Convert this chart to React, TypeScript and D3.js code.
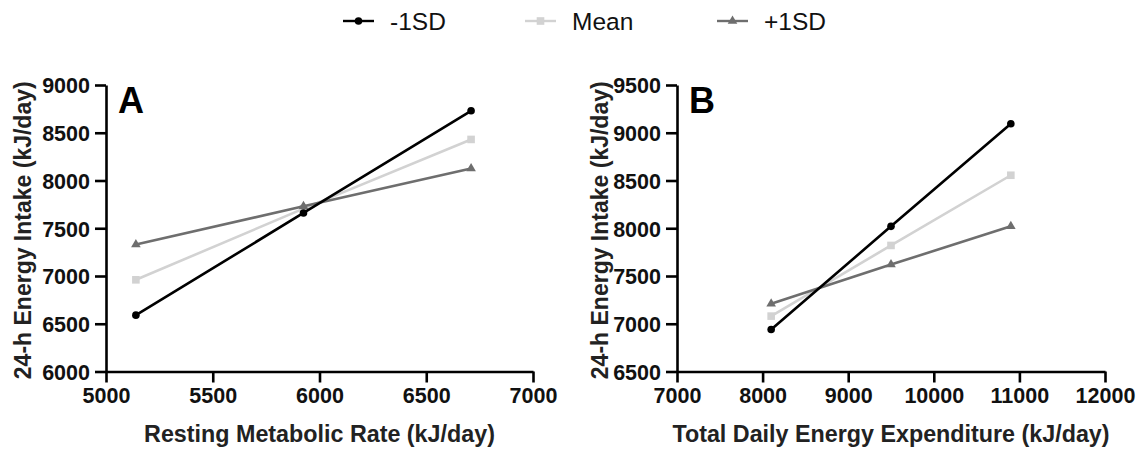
import React, { useEffect, useRef } from 'react';
import * as d3 from 'd3';

// values
const seriesNames = ['-1SD', 'Mean', '+1SD'];
const seriesColors = ['#000000', '#d2d2d2', '#6e6e6e'];
const seriesShapes = ['circle', 'square', 'triangle'];

const rmrX = [5140, 5925, 6710];
const rmrMinus = [6590, 7660, 8730];
const rmrMean = [6960, 7705, 8430];
const rmrPlus = [7330, 7730, 8125];

const tdeeX = [8100, 9500, 10900];
const tdeeMinus = [6940, 8020, 9095];
const tdeeMean = [7080, 7820, 8555];
const tdeePlus = [7210, 7620, 8020];

const rmrXTicks = [5000, 5500, 6000, 6500, 7000];
const rmrYTicks = [6000, 6500, 7000, 7500, 8000, 8500, 9000];
const tdeeXTicks = [7000, 8000, 9000, 10000, 11000, 12000];
const tdeeYTicks = [6500, 7000, 7500, 8000, 8500, 9000, 9500];

const WIDTH = 1142;
const HEIGHT = 453;
const FONT = 'Liberation Sans, Arial, sans-serif';

interface PanelSpec {
  letter: string;
  xTitle: string;
  yTitle: string;
  xs: number[];
  series: number[][];
  xDomain: [number, number];
  yDomain: [number, number];
  xTicks: number[];
  yTicks: number[];
  left: number;
  right: number;
  yTitleX: number;
}

const panels: PanelSpec[] = [
  {
    letter: 'A',
    xTitle: 'Resting Metabolic Rate (kJ/day)',
    yTitle: '24-h Energy Intake (kJ/day)',
    xs: rmrX,
    series: [rmrMinus, rmrMean, rmrPlus],
    xDomain: [5000, 7000],
    yDomain: [6000, 9000],
    xTicks: rmrXTicks,
    yTicks: rmrYTicks,
    left: 106,
    right: 533,
    yTitleX: 23,
  },
  {
    letter: 'B',
    xTitle: 'Total Daily Energy Expenditure (kJ/day)',
    yTitle: '24-h Energy Intake (kJ/day)',
    xs: tdeeX,
    series: [tdeeMinus, tdeeMean, tdeePlus],
    xDomain: [7000, 12000],
    yDomain: [6500, 9500],
    xTicks: tdeeXTicks,
    yTicks: tdeeYTicks,
    left: 677,
    right: 1105,
    yTitleX: 600,
  },
];

const TOP = 85;
const BOTTOM = 371.5;

function drawMarker(g: any, shape: string, x: number, y: number, color: string): void {
  if (shape === 'circle') {
    g.append('circle').attr('cx', x).attr('cy', y).attr('r', 3.8).attr('fill', color);
  } else if (shape === 'square') {
    g.append('rect').attr('x', x - 3.8).attr('y', y - 3.8).attr('width', 7.6).attr('height', 7.6).attr('fill', color);
  } else {
    g.append('path')
      .attr('d', d3.symbol().type(d3.symbolTriangle).size(40)())
      .attr('transform', `translate(${x},${y})`)
      .attr('fill', color);
  }
}

export default function App() {
  const ref = useRef<SVGSVGElement>(null);

  useEffect(() => {
    const svg = d3.select(ref.current);
    svg.selectAll('*').remove();
    svg.append('rect').attr('width', WIDTH).attr('height', HEIGHT).attr('fill', '#fff');

    // legend
    const legendX = [343, 525, 717];
    const legend = svg.append('g');
    seriesNames.forEach((name, i) => {
      legend.append('line')
        .attr('x1', legendX[i]).attr('x2', legendX[i] + 31)
        .attr('y1', 21).attr('y2', 21)
        .attr('stroke', seriesColors[i]).attr('stroke-width', 2.4);
      drawMarker(legend, seriesShapes[i], legendX[i] + 15.5, 21, seriesColors[i]);
      legend.append('text')
        .attr('x', legendX[i] + 47).attr('y', 30)
        .attr('font-family', FONT).attr('font-size', 24.5)
        .attr('fill', '#111')
        .text(name);
    });

    panels.forEach(p => {
      const x = d3.scaleLinear().domain(p.xDomain).range([p.left, p.right]);
      const y = d3.scaleLinear().domain(p.yDomain).range([BOTTOM, TOP]);
      const g = svg.append('g');

      const xAxis = g.append('g')
        .attr('transform', `translate(0,${BOTTOM})`)
        .call(d3.axisBottom(x).tickValues(p.xTicks).tickSize(11).tickSizeOuter(0).tickPadding(5).tickFormat(d => `${d}`));
      const yAxis = g.append('g')
        .attr('transform', `translate(${p.left},0)`)
        .call(d3.axisLeft(y).tickValues(p.yTicks).tickSize(11).tickSizeOuter(0).tickPadding(5).tickFormat(d => `${d}`));

      [xAxis, yAxis].forEach(ax => {
        ax.selectAll('path, line').attr('stroke', '#000').attr('stroke-width', 2.6);
        ax.selectAll('text')
          .attr('font-family', FONT).attr('font-weight', 'bold')
          .attr('font-size', 21.5).attr('fill', '#111');
      });
      yAxis.selectAll('text').attr('dy', '0.36em');

      g.append('text')
        .attr('x', (p.left + p.right) / 2).attr('y', 442)
        .attr('text-anchor', 'middle')
        .attr('font-family', FONT).attr('font-weight', 'bold').attr('font-size', 23.3)
        .attr('fill', '#222')
        .text(p.xTitle);

      g.append('text')
        .attr('transform', `translate(${p.yTitleX + 8},${(TOP + BOTTOM) / 2 + 2}) rotate(-90)`)
        .attr('text-anchor', 'middle')
        .attr('font-family', FONT).attr('font-weight', 'bold').attr('font-size', 23)
        .attr('fill', '#222')
        .text(p.yTitle);

      g.append('text')
        .attr('x', p.left + 12).attr('y', 113)
        .attr('font-family', FONT).attr('font-weight', 'bold').attr('font-size', 36)
        .attr('fill', '#000')
        .text(p.letter);

      const line = d3.line<number>()
        .x((_, i) => x(p.xs[i]))
        .y(d => y(d));

      // draw the lighter series first so the black one sits on top
      [1, 2, 0].forEach(si => {
        const vals = p.series[si];
        g.append('path')
          .datum(vals)
          .attr('fill', 'none')
          .attr('stroke', seriesColors[si])
          .attr('stroke-width', 2.6)
          .attr('d', line as any);
        vals.forEach((v, i) => drawMarker(g, seriesShapes[si], x(p.xs[i]), y(v), seriesColors[si]));
      });
    });
  }, []);

  return (
    <svg
      ref={ref}
      width={WIDTH}
      height={HEIGHT}
      style={{ position: 'absolute', left: 0, top: 0 }}
    />
  );
}
